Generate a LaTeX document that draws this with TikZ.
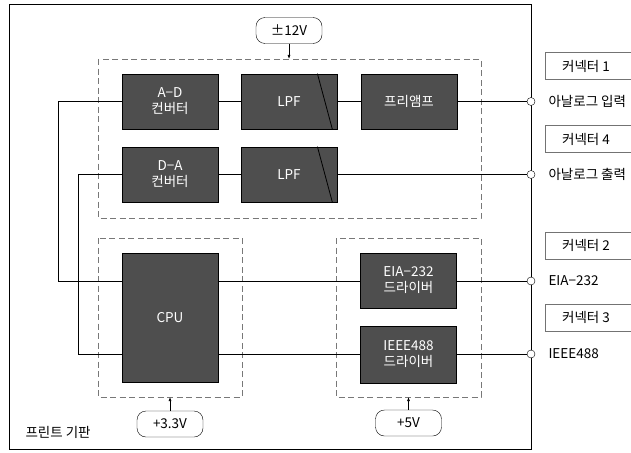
\documentclass[tikz,border=0pt]{standalone}
\usepackage{fontspec}
\setmainfont{Noto Sans CJK KR}
\usepackage{tikz}
\usetikzlibrary{arrows.meta,positioning,calc}
\definecolor{blkgray}{RGB}{78,78,78}
\definecolor{dashgray}{RGB}{120,120,120}
\tikzset{
  blk/.style={draw=black, thick, fill=blkgray, text=white, inner sep=0pt,
    minimum width=96pt, minimum height=55pt, align=center, font=\fontsize{13.5}{16}\selectfont},
  grp/.style={draw=dashgray, dashed, dash pattern=on 6pt off 3.5pt, thick},
  tag/.style={draw=black, rounded corners=9pt, minimum width=66pt, minimum height=26pt,
    inner sep=0pt, font=\fontsize{13.5}{15}\selectfont},
  conn/.style={draw=black!55, minimum height=27pt, inner sep=0pt},
  pin/.style={circle, draw=black, fill=white, inner sep=0pt, minimum size=8pt},
  wire/.style={black, semithick},
  pwr/.style={-{Latex[length=4pt,width=3pt]}, black, semithick},
}

\begin{document}
\begin{tikzpicture}[x=1pt, y=-1pt, font=\fontsize{13.5}{16}\selectfont]
  \useasboundingbox (0,0) rectangle (631,452);
  \clip (0,0) rectangle (631,452);
  % board
  \draw[thick] (9,4) rectangle (531,449);
  \node[anchor=west] (board) at (22,432) {프린트 기판};
  % groups
  \draw[grp] (98,59) rectangle (481,218);
  \draw[grp] (98,238) rectangle (242,397);
  \draw[grp] (336,238) rectangle (481,397);
  \coordinate (g12) at (289,59);
  \coordinate (g33) at (170,397);
  \coordinate (g5) at (408.5,397);
  % blocks
  \node[blk] (ad) at (170,101.5) {A−D\\컨버터};
  \node[blk] (lpf1) at (289,101.5) {LPF};
  \node[blk] (pre) at (409,101.5) {프리앰프};
  \node[blk] (da) at (170,174.5) {D−A\\컨버터};
  \node[blk] (lpf2) at (289,174.5) {LPF};
  \node[blk, minimum height=129pt] (cpu) at (170,317.5) {CPU};
  \node[blk] (eia) at (408.5,280.5) {EIA−232\\드라이버};
  \node[blk, minimum height=57pt] (ieee) at (408.5,354.5) {IEEE488\\드라이버};
  \draw[thick] ($(lpf1.north east)+(-20,0)$) -- ($(lpf1.south east)+(-5,0)$);
  \draw[thick] ($(lpf2.north east)+(-20,0)$) -- ($(lpf2.south east)+(-5,0)$);
  % supplies
  \node[tag] (v12) at (289,30.5) {±12V};
  \node[tag] (v33) at (170,424) {+3.3V};
  \node[tag] (v5) at (408.5,423) {+5V};
  \draw[pwr] (v12.south) -- (g12);
  \draw[pwr] (v33.north) -- (g33);
  \draw[pwr] (v5.north) -- (g5);
  % pins
  \node[pin] (p1) at (531,101.5) {};
  \node[pin] (p4) at (531,174.5) {};
  \node[pin] (p2) at (531,281) {};
  \node[pin] (p3) at (531,354) {};
  \node[anchor=west] (l1) at (545,101.5) {아날로그 입력};
  \node[anchor=west] (l4) at (545,174.5) {아날로그 출력};
  \node[anchor=west] (l2) at (545,281) {EIA−232};
  \node[anchor=west] (l3) at (545,354) {IEEE488};
  % connectors
  \node[conn, minimum width=100pt, anchor=west] (c1) at (545,66) {};
  \node[conn, minimum width=100pt, anchor=west] (c4) at (545,139) {};
  \node[conn, minimum width=100pt, anchor=west] (c2) at (545,245.5) {};
  \node[conn, minimum width=100pt, anchor=west] (c3) at (545,317.5) {};
  \node (t1) at (586,66) {커넥터 1};
  \node (t4) at (586,139) {커넥터 4};
  \node (t2) at (586,245.5) {커넥터 2};
  \node (t3) at (586,317.5) {커넥터 3};
  % wires
  \draw[wire] (ad) -- (lpf1);
  \draw[wire] (lpf1) -- (pre);
  \draw[wire] (pre) -- (p1);
  \draw[wire] (da) -- (lpf2);
  \draw[wire] (lpf2) -- (p4);
  \draw[wire] (ad.west) -| (58,281) -- (cpu.west |- 0,281);
  \draw[wire] (da.west) -| (78,354) -- (cpu.west |- 0,354);
  \draw[wire] (cpu.east |- 0,281) -- (eia.west |- 0,281);
  \draw[wire] (cpu.east |- 0,354) -- (ieee.west |- 0,354);
  \draw[wire] (eia.east |- 0,281) -- (p2);
  \draw[wire] (ieee.east |- 0,354) -- (p3);
\end{tikzpicture}
\end{document}
